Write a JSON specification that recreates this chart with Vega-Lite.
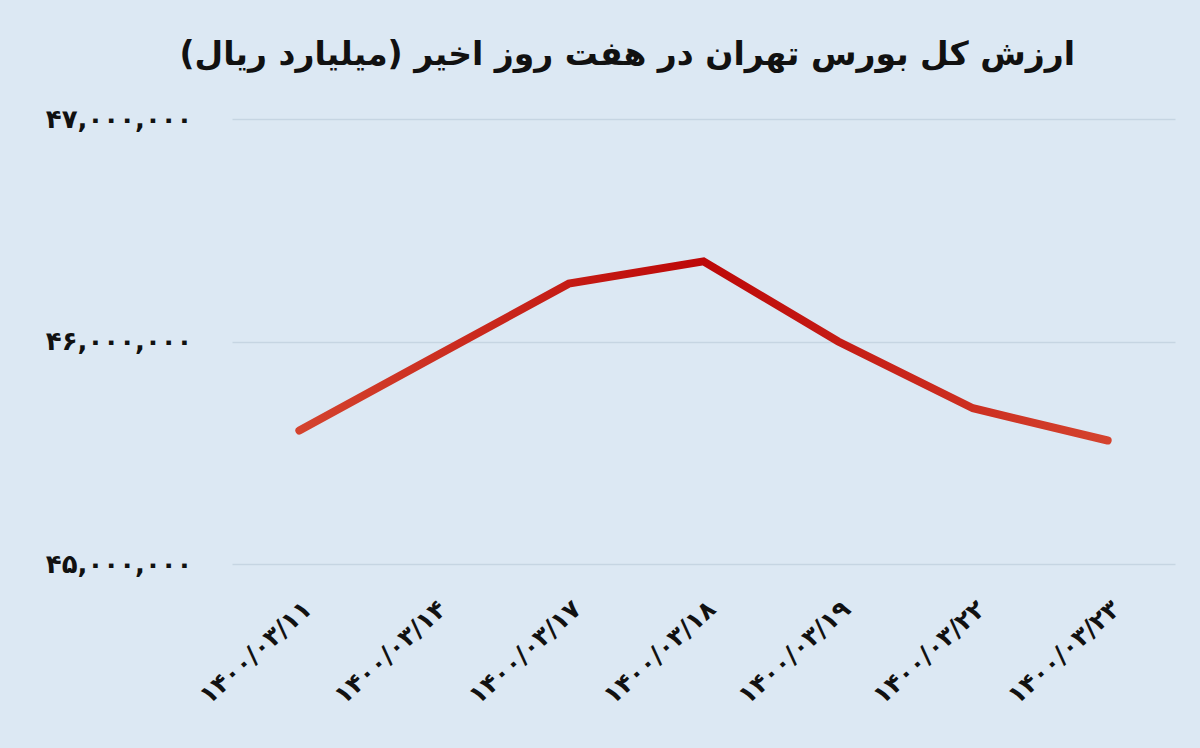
{
  "$schema": "https://vega.github.io/schema/vega-lite/v6.json",
  "width": 943,
  "height": 445,
  "autosize": {"type": "none"},
  "padding": {"left": 232, "top": 119, "right": 25, "bottom": 184},
  "background": "#dce8f3",
  "title": {
    "text": "\u200fارزش کل بورس تهران در هفت روز اخیر (میلیارد ریال)\u200f",
    "anchor": "end",
    "dx": -100,
    "offset": 34,
    "fontSize": 33,
    "font": "DejaVu Sans",
    "fontWeight": "bold",
    "color": "#111111"
  },
  "data": {
    "values": [
      {"date": "۱۴۰۰/۰۳/۱۱", "value": 45600000},
      {"date": "۱۴۰۰/۰۳/۱۴", "value": 45930000},
      {"date": "۱۴۰۰/۰۳/۱۷", "value": 46260000},
      {"date": "۱۴۰۰/۰۳/۱۸", "value": 46360000},
      {"date": "۱۴۰۰/۰۳/۱۹", "value": 46000000},
      {"date": "۱۴۰۰/۰۳/۲۲", "value": 45700000},
      {"date": "۱۴۰۰/۰۳/۲۳", "value": 45555000}
    ]
  },
  "mark": {
    "type": "line",
    "strokeWidth": 8,
    "strokeCap": "round",
    "strokeJoin": "miter",
    "color": {
      "gradient": "linear",
      "x1": 0, "y1": 0, "x2": 1, "y2": 0,
      "stops": [
        {"offset": 0, "color": "#d4432e"},
        {"offset": 0.5, "color": "#bd0808"},
        {"offset": 1, "color": "#d4432e"}
      ]
    }
  },
  "encoding": {
    "x": {
      "field": "date",
      "type": "ordinal",
      "sort": null,
      "scale": {"type": "point", "padding": 0.5},
      "axis": {
        "title": null,
        "domain": false,
        "ticks": false,
        "grid": false,
        "labelAngle": -42,
        "labelFontSize": 25,
        "labelFont": "DejaVu Sans",
        "labelFontWeight": "bold",
        "labelColor": "#111111",
        "labelPadding": 32
      }
    },
    "y": {
      "field": "value",
      "type": "quantitative",
      "scale": {"domain": [45000000, 47000000], "nice": false, "zero": false},
      "axis": {
        "title": null,
        "values": [45000000, 46000000, 47000000],
        "labelExpr": "datum.value == 47000000 ? '۴۷,۰۰۰,۰۰۰' : datum.value == 46000000 ? '۴۶,۰۰۰,۰۰۰' : '۴۵,۰۰۰,۰۰۰'",
        "domain": false,
        "ticks": false,
        "grid": true,
        "gridColor": "#c6d5e2",
        "gridWidth": 1.5,
        "labelPadding": 40,
        "labelFontSize": 26,
        "labelFont": "DejaVu Sans",
        "labelFontWeight": "bold",
        "labelColor": "#111111"
      }
    }
  },
  "config": {"view": {"stroke": null}}
}
